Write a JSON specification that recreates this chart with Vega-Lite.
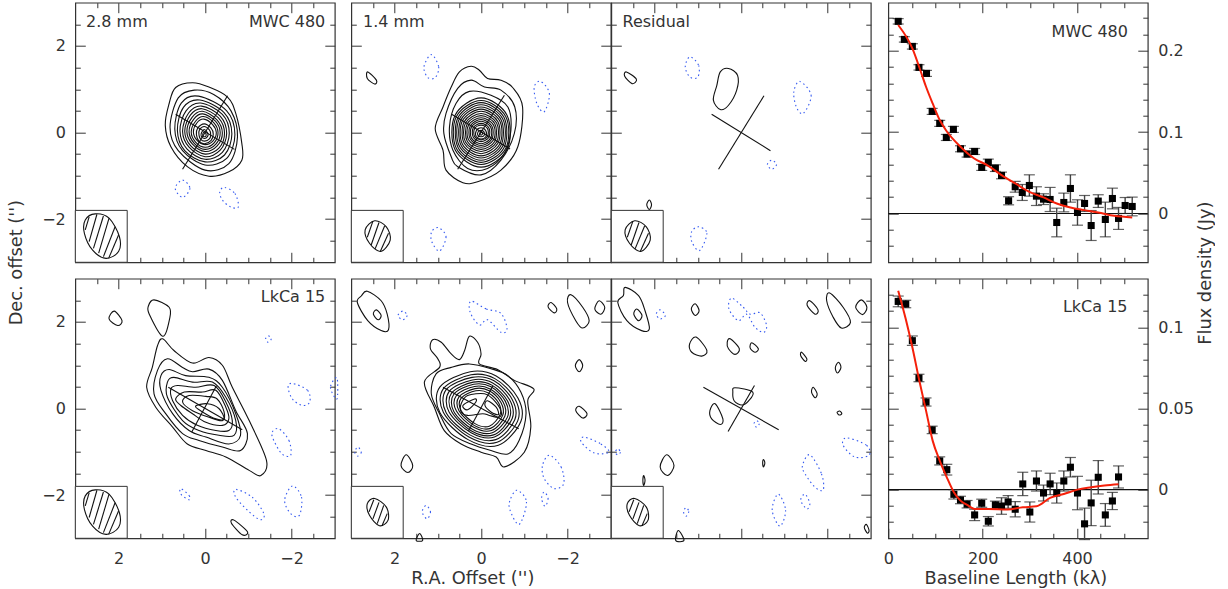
{"$schema":"https://vega.github.io/schema/vega-lite/v6.json","padding":{"left":6.3,"top":0.7,"right":0,"bottom":0},"columns":6,"spacing":{"row":16,"column":0},"bounds":"flush","background":"white",
"config":{"view":{"stroke":"#333","strokeWidth":1.2},"line":{"stroke":"#111","strokeWidth":1.1,"clip":true},"text":{"font":"DejaVu Sans","fontSize":16,"fill":"#333"},"axis":{"domain":false,"grid":false,"labelFont":"DejaVu Sans","labelFontSize":16,"labelColor":"#333","tickColor":"#333","tickWidth":1,"titleFont":"DejaVu Sans","titleFontSize":17.8,"titleFontWeight":"normal","titleColor":"#333","title":null,"labelOverlap":false,"labelFlush":false}},
"datasets":{
"box":[{"x":3,"x2":1.8,"y":-3,"y2":-1.8}],
"zero":[{"y":0}],
"beamA":[{"x":2.54,"y":-1.88},{"x":2.22,"y":-1.98},{"x":1.98,"y":-2.41},{"x":2,"y":-2.75},{"x":2.29,"y":-2.91},{"x":2.6,"y":-2.72},{"x":2.79,"y":-2.33},{"x":2.77,"y":-2.02}],
"hatchA":[{"c":1,"x":2.77,"y":-2.25},{"c":1,"x":2.68,"y":-1.95},{"c":2,"x":2.68,"y":-2.52},{"c":2,"x":2.5,"y":-1.89},{"c":3,"x":2.58,"y":-2.68},{"c":3,"x":2.35,"y":-1.93},{"c":4,"x":2.46,"y":-2.79},{"c":4,"x":2.22,"y":-1.98},{"c":5,"x":2.35,"y":-2.87},{"c":5,"x":2.08,"y":-2.18},{"c":6,"x":2.23,"y":-2.91},{"c":6,"x":2,"y":-2.37}],
"beamB":[{"x":2.46,"y":-2.04},{"x":2.19,"y":-2.18},{"x":2.1,"y":-2.49},{"x":2.32,"y":-2.75},{"x":2.58,"y":-2.56},{"x":2.68,"y":-2.25}],
"hatchB":[{"c":1,"x":2.63,"y":-2.42},{"c":1,"x":2.5,"y":-2.05},{"c":2,"x":2.54,"y":-2.6},{"c":2,"x":2.36,"y":-2.08},{"c":3,"x":2.45,"y":-2.69},{"c":3,"x":2.23,"y":-2.16},{"c":4,"x":2.33,"y":-2.75},{"c":4,"x":2.14,"y":-2.33}],
"beamC":[{"x":2.46,"y":-2.08},{"x":2.19,"y":-2.28},{"x":2.15,"y":-2.58},{"x":2.35,"y":-2.71},{"x":2.58,"y":-2.47},{"x":2.63,"y":-2.2}],
"hatchC":[{"c":1,"x":2.59,"y":-2.39},{"c":1,"x":2.48,"y":-2.11},{"c":2,"x":2.5,"y":-2.55},{"c":2,"x":2.36,"y":-2.17},{"c":3,"x":2.4,"y":-2.66},{"c":3,"x":2.25,"y":-2.24},{"c":4,"x":2.29,"y":-2.71},{"c":4,"x":2.17,"y":-2.43}],
"p1":[{"c":1,"x":0.29,"y":1.15},{"c":1,"x":0.68,"y":1.04},{"c":1,"x":0.83,"y":0.67},{"c":1,"x":0.92,"y":0.17},{"c":1,"x":0.79,"y":-0.33},{"c":1,"x":0.41,"y":-0.79},{"c":1,"x":-0.09,"y":-1.01},{"c":1,"x":-0.55,"y":-0.91},{"c":1,"x":-0.85,"y":-0.64},{"c":1,"x":-0.85,"y":-0.25},{"c":1,"x":-0.71,"y":0.44},{"c":1,"x":-0.52,"y":0.82},{"c":1,"x":-0.09,"y":1.05},
{"c":2,"x":0.25,"y":0.98},{"c":2,"x":0.62,"y":0.8},{"c":2,"x":0.81,"y":0.12},{"c":2,"x":0.62,"y":-0.42},{"c":2,"x":0,"y":-0.87},{"c":2,"x":-0.55,"y":-0.72},{"c":2,"x":-0.75,"y":-0.1},{"c":2,"x":-0.6,"y":0.5},{"c":2,"x":-0.2,"y":0.88},
{"c":3,"x":0.15,"y":0.84},{"c":3,"x":0.55,"y":0.68},{"c":3,"x":0.7,"y":0.08},{"c":3,"x":0.52,"y":-0.42},{"c":3,"x":0,"y":-0.75},{"c":3,"x":-0.5,"y":-0.6},{"c":3,"x":-0.69,"y":-0.05},{"c":3,"x":-0.5,"y":0.5},
{"c":4,"x":0.12,"y":0.75},{"c":4,"x":0.5,"y":0.58},{"c":4,"x":0.64,"y":0.05},{"c":4,"x":0.47,"y":-0.42},{"c":4,"x":0,"y":-0.68},{"c":4,"x":-0.45,"y":-0.52},{"c":4,"x":-0.62,"y":-0.03},{"c":4,"x":-0.44,"y":0.46},
{"c":5,"x":0.1,"y":0.68},{"c":5,"x":0.44,"y":0.5},{"c":5,"x":0.58,"y":0.04},{"c":5,"x":0.42,"y":-0.38},{"c":5,"x":0,"y":-0.62},{"c":5,"x":-0.4,"y":-0.46},{"c":5,"x":-0.56,"y":-0.02},{"c":5,"x":-0.4,"y":0.42},
{"c":6,"x":0.08,"y":0.61},{"c":6,"x":0.38,"y":0.45},{"c":6,"x":0.52,"y":0.03},{"c":6,"x":0.37,"y":-0.34},{"c":6,"x":0,"y":-0.56},{"c":6,"x":-0.35,"y":-0.41},{"c":6,"x":-0.5,"y":-0.02},{"c":6,"x":-0.35,"y":0.38},
{"c":7,"x":0.07,"y":0.55},{"c":7,"x":0.34,"y":0.4},{"c":7,"x":0.47,"y":0.03},{"c":7,"x":0.33,"y":-0.31},{"c":7,"x":0,"y":-0.5},{"c":7,"x":-0.32,"y":-0.36},{"c":7,"x":-0.45,"y":-0.01},{"c":7,"x":-0.31,"y":0.34},
{"c":8,"x":0.06,"y":0.49},{"c":8,"x":0.3,"y":0.35},{"c":8,"x":0.42,"y":0.02},{"c":8,"x":0.29,"y":-0.27},{"c":8,"x":0,"y":-0.44},{"c":8,"x":-0.28,"y":-0.31},{"c":8,"x":-0.4,"y":-0.01},{"c":8,"x":-0.27,"y":0.3},
{"c":9,"x":0.05,"y":0.43},{"c":9,"x":0.26,"y":0.31},{"c":9,"x":0.37,"y":0.02},{"c":9,"x":0.25,"y":-0.25},{"c":9,"x":0,"y":-0.39},{"c":9,"x":-0.25,"y":-0.27},{"c":9,"x":-0.35,"y":0},{"c":9,"x":-0.24,"y":0.26},
{"c":10,"x":0.04,"y":0.37},{"c":10,"x":0.22,"y":0.26},{"c":10,"x":0.32,"y":0.01},{"c":10,"x":0.22,"y":-0.22},{"c":10,"x":0,"y":-0.34},{"c":10,"x":-0.21,"y":-0.24},{"c":10,"x":-0.3,"y":0},{"c":10,"x":-0.2,"y":0.23},
{"c":11,"x":0.03,"y":0.31},{"c":11,"x":0.19,"y":0.22},{"c":11,"x":0.27,"y":0.01},{"c":11,"x":0.18,"y":-0.19},{"c":11,"x":0,"y":-0.28},{"c":11,"x":-0.18,"y":-0.2},{"c":11,"x":-0.26,"y":0},{"c":11,"x":-0.17,"y":0.19},
{"c":12,"x":0.02,"y":0.2},{"c":12,"x":0.17,"y":0.1},{"c":12,"x":0.2,"y":-0.05},{"c":12,"x":0.14,"y":-0.2},{"c":12,"x":0.01,"y":-0.26},{"c":12,"x":-0.14,"y":-0.18},{"c":12,"x":-0.19,"y":-0.04},{"c":12,"x":-0.14,"y":0.1},
{"c":13,"x":0.02,"y":0.14},{"c":13,"x":0.13,"y":0.06},{"c":13,"x":0.14,"y":-0.06},{"c":13,"x":0.1,"y":-0.16},{"c":13,"x":0.01,"y":-0.2},{"c":13,"x":-0.1,"y":-0.15},{"c":13,"x":-0.13,"y":-0.05},{"c":13,"x":-0.1,"y":0.06},
{"c":14,"x":0.02,"y":0.07},{"c":14,"x":0.08,"y":0},{"c":14,"x":0.09,"y":-0.08},{"c":14,"x":0.02,"y":-0.14},{"c":14,"x":-0.06,"y":-0.09},{"c":14,"x":-0.06,"y":-0.01},
{"c":15,"x":0.02,"y":0.01},{"c":15,"x":0.05,"y":-0.03},{"c":15,"x":0.05,"y":-0.08},{"c":15,"x":0.02,"y":-0.1},{"c":15,"x":-0.02,"y":-0.08},{"c":15,"x":-0.02,"y":-0.03}],
"n1":[{"c":1,"x":0.52,"y":-1.1},{"c":1,"x":0.35,"y":-1.29},{"c":1,"x":0.52,"y":-1.5},{"c":1,"x":0.69,"y":-1.29},{"c":2,"x":-0.45,"y":-1.27},{"c":2,"x":-0.69,"y":-1.41},{"c":2,"x":-0.77,"y":-1.72},{"c":2,"x":-0.59,"y":-1.72},{"c":2,"x":-0.4,"y":-1.56},{"c":2,"x":-0.34,"y":-1.37}],
"l1":[{"c":1,"x":-0.52,"y":0.85},{"c":1,"x":0.52,"y":-0.85},{"c":2,"x":0.68,"y":0.42},{"c":2,"x":-0.68,"y":-0.39}],
"p2":[{"c":1,"x":0.23,"y":1.53},{"c":1,"x":0.5,"y":1.4},{"c":1,"x":0.69,"y":1.05},{"c":1,"x":0.88,"y":0.59},{"c":1,"x":1.06,"y":0.09},{"c":1,"x":0.88,"y":-0.41},{"c":1,"x":0.81,"y":-0.87},{"c":1,"x":0.42,"y":-1.16},{"c":1,"x":0.08,"y":-1.14},{"c":1,"x":-0.46,"y":-0.87},{"c":1,"x":-0.85,"y":-0.33},{"c":1,"x":-0.96,"y":0.59},{"c":1,"x":-0.73,"y":1.04},{"c":1,"x":-0.46,"y":1.21},{"c":1,"x":-0.15,"y":1.25},{"c":1,"x":0.04,"y":1.44},
{"c":2,"x":0.23,"y":1.21},{"c":2,"x":0.54,"y":1.02},{"c":2,"x":0.81,"y":0.44},{"c":2,"x":0.86,"y":-0.02},{"c":2,"x":0.69,"y":-0.56},{"c":2,"x":0.54,"y":-0.79},{"c":2,"x":0,"y":-0.98},{"c":2,"x":-0.46,"y":-0.64},{"c":2,"x":-0.77,"y":-0.02},{"c":2,"x":-0.78,"y":0.59},{"c":2,"x":-0.46,"y":0.98},{"c":2,"x":-0.08,"y":1.05},
{"c":3,"x":0.27,"y":0.95},{"c":3,"x":0.58,"y":0.67},{"c":3,"x":0.73,"y":0.13},{"c":3,"x":0.65,"y":-0.41},{"c":3,"x":0.31,"y":-0.83},{"c":3,"x":-0.15,"y":-0.83},{"c":3,"x":-0.54,"y":-0.48},{"c":3,"x":-0.69,"y":0.05},{"c":3,"x":-0.62,"y":0.59},{"c":3,"x":-0.23,"y":0.86},
{"c":4,"x":0,"y":0.8},{"c":4,"x":0.6,"y":0.4},{"c":4,"x":0.6,"y":-0.4},{"c":4,"x":0,"y":-0.8},{"c":4,"x":-0.6,"y":-0.4},{"c":4,"x":-0.6,"y":0.4},
{"c":5,"x":0,"y":0.74},{"c":5,"x":0.57,"y":0.37},{"c":5,"x":0.57,"y":-0.37},{"c":5,"x":0,"y":-0.74},{"c":5,"x":-0.57,"y":-0.37},{"c":5,"x":-0.57,"y":0.37},
{"c":6,"x":0,"y":0.69},{"c":6,"x":0.53,"y":0.35},{"c":6,"x":0.53,"y":-0.35},{"c":6,"x":0,"y":-0.69},{"c":6,"x":-0.53,"y":-0.35},{"c":6,"x":-0.53,"y":0.35},
{"c":7,"x":0,"y":0.64},{"c":7,"x":0.5,"y":0.32},{"c":7,"x":0.5,"y":-0.32},{"c":7,"x":0,"y":-0.64},{"c":7,"x":-0.5,"y":-0.32},{"c":7,"x":-0.5,"y":0.32},
{"c":8,"x":0,"y":0.59},{"c":8,"x":0.46,"y":0.3},{"c":8,"x":0.46,"y":-0.3},{"c":8,"x":0,"y":-0.59},{"c":8,"x":-0.46,"y":-0.3},{"c":8,"x":-0.46,"y":0.3},
{"c":9,"x":0,"y":0.54},{"c":9,"x":0.43,"y":0.27},{"c":9,"x":0.43,"y":-0.27},{"c":9,"x":0,"y":-0.54},{"c":9,"x":-0.43,"y":-0.27},{"c":9,"x":-0.43,"y":0.27},
{"c":10,"x":0,"y":0.49},{"c":10,"x":0.39,"y":0.25},{"c":10,"x":0.39,"y":-0.25},{"c":10,"x":0,"y":-0.49},{"c":10,"x":-0.39,"y":-0.25},{"c":10,"x":-0.39,"y":0.25},
{"c":11,"x":0,"y":0.44},{"c":11,"x":0.36,"y":0.22},{"c":11,"x":0.36,"y":-0.22},{"c":11,"x":0,"y":-0.44},{"c":11,"x":-0.36,"y":-0.22},{"c":11,"x":-0.36,"y":0.22},
{"c":12,"x":0,"y":0.39},{"c":12,"x":0.32,"y":0.2},{"c":12,"x":0.32,"y":-0.2},{"c":12,"x":0,"y":-0.39},{"c":12,"x":-0.32,"y":-0.2},{"c":12,"x":-0.32,"y":0.2},
{"c":13,"x":0,"y":0.34},{"c":13,"x":0.29,"y":0.17},{"c":13,"x":0.29,"y":-0.17},{"c":13,"x":0,"y":-0.34},{"c":13,"x":-0.29,"y":-0.17},{"c":13,"x":-0.29,"y":0.17},
{"c":14,"x":0,"y":0.3},{"c":14,"x":0.25,"y":0.15},{"c":14,"x":0.25,"y":-0.15},{"c":14,"x":0,"y":-0.3},{"c":14,"x":-0.25,"y":-0.15},{"c":14,"x":-0.25,"y":0.15},
{"c":15,"x":0,"y":0.26},{"c":15,"x":0.22,"y":0.13},{"c":15,"x":0.22,"y":-0.13},{"c":15,"x":0,"y":-0.26},{"c":15,"x":-0.22,"y":-0.13},{"c":15,"x":-0.22,"y":0.13},
{"c":16,"x":0,"y":0.21},{"c":16,"x":0.18,"y":0.11},{"c":16,"x":0.18,"y":-0.11},{"c":16,"x":0,"y":-0.21},{"c":16,"x":-0.18,"y":-0.11},{"c":16,"x":-0.18,"y":0.11},
{"c":17,"x":0,"y":0.17},{"c":17,"x":0.15,"y":0.09},{"c":17,"x":0.15,"y":-0.09},{"c":17,"x":0,"y":-0.17},{"c":17,"x":-0.15,"y":-0.09},{"c":17,"x":-0.15,"y":0.09},
{"c":18,"x":0,"y":0.11},{"c":18,"x":0.11,"y":0.04},{"c":18,"x":0.11,"y":-0.1},{"c":18,"x":0,"y":-0.15},{"c":18,"x":-0.11,"y":-0.1},{"c":18,"x":-0.11,"y":0.04},
{"c":19,"x":0,"y":0.05},{"c":19,"x":0.07,"y":0.01},{"c":19,"x":0.07,"y":-0.07},{"c":19,"x":0,"y":-0.1},{"c":19,"x":-0.07,"y":-0.07},{"c":19,"x":-0.07,"y":0.01},
{"c":20,"x":0,"y":0.01},{"c":20,"x":0.03,"y":-0.01},{"c":20,"x":0.03,"y":-0.04},{"c":20,"x":0,"y":-0.06},{"c":20,"x":-0.03,"y":-0.04},{"c":20,"x":-0.03,"y":-0.01},
{"c":21,"x":2.62,"y":1.4},{"c":21,"x":2.42,"y":1.21},{"c":21,"x":2.46,"y":1.12},{"c":21,"x":2.63,"y":1.25}],
"n2":[{"c":1,"x":1.15,"y":1.8},{"c":1,"x":0.98,"y":1.52},{"c":1,"x":1.06,"y":1.27},{"c":1,"x":1.23,"y":1.27},{"c":1,"x":1.32,"y":1.52},{"c":2,"x":-1.38,"y":1.18},{"c":2,"x":-1.58,"y":0.9},{"c":2,"x":-1.46,"y":0.48},{"c":2,"x":-1.29,"y":0.67},{"c":2,"x":-1.23,"y":1.05},{"c":3,"x":0.98,"y":-2.2},{"c":3,"x":0.81,"y":-2.41},{"c":3,"x":0.96,"y":-2.74},{"c":3,"x":1.14,"y":-2.52},{"c":3,"x":1.14,"y":-2.29}],
"l2":[{"c":1,"x":-0.54,"y":0.86},{"c":1,"x":0.54,"y":-0.85},{"c":2,"x":0.68,"y":0.42},{"c":2,"x":-0.67,"y":-0.38}],
"p3":[{"c":1,"x":2.65,"y":1.4},{"c":1,"x":2.42,"y":1.23},{"c":1,"x":2.52,"y":1.13},{"c":1,"x":2.69,"y":1.3},{"c":2,"x":0.29,"y":1.48},{"c":2,"x":0.08,"y":1.32},{"c":2,"x":0.1,"y":0.98},{"c":2,"x":0.29,"y":0.63},{"c":2,"x":0.48,"y":0.53},{"c":2,"x":0.64,"y":0.75},{"c":2,"x":0.56,"y":1.09},{"c":2,"x":0.48,"y":1.4},{"c":3,"x":2.12,"y":-1.56},{"c":3,"x":2.07,"y":-1.67},{"c":3,"x":2.12,"y":-1.78},{"c":3,"x":2.18,"y":-1.67}],
"n3":[{"c":1,"x":1.18,"y":1.75},{"c":1,"x":0.98,"y":1.55},{"c":1,"x":1,"y":1.28},{"c":1,"x":1.18,"y":1.28},{"c":1,"x":1.29,"y":1.52},{"c":2,"x":-1.36,"y":1.18},{"c":2,"x":-1.62,"y":0.86},{"c":2,"x":-1.44,"y":0.44},{"c":2,"x":-1.28,"y":0.59},{"c":2,"x":-1.22,"y":0.94},{"c":3,"x":-0.71,"y":-0.64},{"c":3,"x":-0.82,"y":-0.74},{"c":3,"x":-0.71,"y":-0.85},{"c":3,"x":-0.61,"y":-0.74},{"c":4,"x":0.98,"y":-2.18},{"c":4,"x":0.79,"y":-2.33},{"c":4,"x":0.96,"y":-2.73},{"c":4,"x":1.14,"y":-2.52},{"c":4,"x":1.14,"y":-2.29}],
"l3":[{"c":1,"x":-0.53,"y":0.85},{"c":1,"x":0.52,"y":-0.85},{"c":2,"x":0.68,"y":0.42},{"c":2,"x":-0.68,"y":-0.42}],
"p4":[{"c":1,"x":2.1,"y":2.25},{"c":1,"x":1.92,"y":2.03},{"c":1,"x":2.02,"y":1.92},{"c":1,"x":2.22,"y":2.07},{"c":2,"x":1.18,"y":2.51},{"c":2,"x":0.83,"y":2.34},{"c":2,"x":0.82,"y":2.07},{"c":2,"x":0.98,"y":1.67},{"c":2,"x":1.29,"y":2.18},{"c":2,"x":1.31,"y":2.37},
{"c":3,"x":0.98,"y":1.61},{"c":3,"x":0.72,"y":1.34},{"c":3,"x":0.29,"y":1.05},{"c":3,"x":-0.09,"y":1.18},{"c":3,"x":-0.4,"y":1},{"c":3,"x":-0.63,"y":0.49},{"c":3,"x":-1.02,"y":-0.28},{"c":3,"x":-1.42,"y":-1.2},{"c":3,"x":-1.29,"y":-1.55},{"c":3,"x":-1.02,"y":-1.43},{"c":3,"x":-0.48,"y":-1.12},{"c":3,"x":-0.02,"y":-0.97},{"c":3,"x":0.41,"y":-0.82},{"c":3,"x":0.75,"y":-0.43},{"c":3,"x":1.14,"y":0.03},{"c":3,"x":1.35,"y":0.49},{"c":3,"x":1.22,"y":0.95},{"c":3,"x":1.1,"y":1.45},
{"c":4,"x":0.87,"y":1.15},{"c":4,"x":0.52,"y":0.95},{"c":4,"x":0.29,"y":0.85},{"c":4,"x":-0.09,"y":0.91},{"c":4,"x":-0.4,"y":0.65},{"c":4,"x":-0.71,"y":-0.05},{"c":4,"x":-0.98,"y":-0.58},{"c":4,"x":-0.82,"y":-0.97},{"c":4,"x":-0.4,"y":-0.89},{"c":4,"x":0.14,"y":-0.74},{"c":4,"x":0.52,"y":-0.58},{"c":4,"x":0.91,"y":-0.12},{"c":4,"x":1.18,"y":0.34},{"c":4,"x":1.1,"y":0.88},
{"c":5,"x":0.83,"y":0.9},{"c":5,"x":0.45,"y":0.76},{"c":5,"x":-0.09,"y":0.72},{"c":5,"x":-0.4,"y":0.49},{"c":5,"x":-0.71,"y":-0.12},{"c":5,"x":-0.82,"y":-0.62},{"c":5,"x":-0.55,"y":-0.82},{"c":5,"x":-0.02,"y":-0.66},{"c":5,"x":0.37,"y":-0.51},{"c":5,"x":0.75,"y":-0.12},{"c":5,"x":1.02,"y":0.42},{"c":5,"x":1.02,"y":0.76},
{"c":6,"x":0.72,"y":0.72},{"c":6,"x":0.29,"y":0.61},{"c":6,"x":-0.17,"y":0.61},{"c":6,"x":-0.48,"y":0.26},{"c":6,"x":-0.71,"y":-0.28},{"c":6,"x":-0.67,"y":-0.62},{"c":6,"x":-0.32,"y":-0.62},{"c":6,"x":0.14,"y":-0.51},{"c":6,"x":0.52,"y":-0.28},{"c":6,"x":0.87,"y":0.26},{"c":6,"x":0.87,"y":0.61},
{"c":7,"x":0.64,"y":0.53},{"c":7,"x":0.22,"y":0.49},{"c":7,"x":-0.21,"y":0.53},{"c":7,"x":-0.48,"y":0.15},{"c":7,"x":-0.63,"y":-0.28},{"c":7,"x":-0.55,"y":-0.51},{"c":7,"x":-0.25,"y":-0.51},{"c":7,"x":0.18,"y":-0.39},{"c":7,"x":0.52,"y":-0.16},{"c":7,"x":0.75,"y":0.18},{"c":7,"x":0.79,"y":0.45},
{"c":8,"x":0.48,"y":0.38},{"c":8,"x":0.06,"y":0.38},{"c":8,"x":-0.25,"y":0.42},{"c":8,"x":-0.48,"y":0.03},{"c":8,"x":-0.55,"y":-0.24},{"c":8,"x":-0.4,"y":-0.39},{"c":8,"x":-0.02,"y":-0.32},{"c":8,"x":0.29,"y":-0.12},{"c":8,"x":0.56,"y":0.07},{"c":8,"x":0.68,"y":0.22},
{"c":9,"x":0.37,"y":0.3},{"c":9,"x":-0.02,"y":0.28},{"c":9,"x":-0.28,"y":0.22},{"c":9,"x":-0.44,"y":-0.08},{"c":9,"x":-0.4,"y":-0.28},{"c":9,"x":-0.09,"y":-0.2},{"c":9,"x":0.29,"y":-0.05},{"c":9,"x":0.52,"y":0.15},
{"c":10,"x":0.22,"y":0.05},{"c":10,"x":-0.05,"y":0.11},{"c":10,"x":-0.32,"y":0},{"c":10,"x":-0.44,"y":-0.24},{"c":10,"x":-0.25,"y":-0.24},{"c":10,"x":0.06,"y":-0.08},
{"c":11,"x":-0.67,"y":-2.58},{"c":11,"x":-0.98,"y":-2.85},{"c":11,"x":-0.86,"y":-2.92},{"c":11,"x":-0.61,"y":-2.65}],
"n4":[{"c":1,"x":-1.46,"y":1.68},{"c":1,"x":-1.53,"y":1.61},{"c":1,"x":-1.46,"y":1.53},{"c":1,"x":-1.4,"y":1.61},{"c":2,"x":-2.02,"y":0.58},{"c":2,"x":-2.37,"y":0.42},{"c":2,"x":-2.42,"y":0.15},{"c":2,"x":-2.25,"y":0.07},{"c":2,"x":-2.02,"y":0.22},{"c":2,"x":-1.92,"y":0.49},{"c":3,"x":-1.71,"y":-0.47},{"c":3,"x":-1.94,"y":-0.74},{"c":3,"x":-1.98,"y":-1.08},{"c":3,"x":-1.78,"y":-1.05},{"c":3,"x":-1.59,"y":-0.74},{"c":3,"x":-1.55,"y":-0.55},{"c":4,"x":0.56,"y":-1.85},{"c":4,"x":0.37,"y":-2.01},{"c":4,"x":0.37,"y":-2.11},{"c":4,"x":0.56,"y":-1.98},{"c":5,"x":-0.71,"y":-1.87},{"c":5,"x":-1.09,"y":-2.05},{"c":5,"x":-1.36,"y":-2.43},{"c":5,"x":-1.28,"y":-2.57},{"c":5,"x":-1.02,"y":-2.39},{"c":5,"x":-0.71,"y":-2.05},{"c":6,"x":-2.02,"y":-1.79},{"c":6,"x":-2.23,"y":-2.05},{"c":6,"x":-2.18,"y":-2.47},{"c":6,"x":-1.98,"y":-2.43},{"c":6,"x":-1.84,"y":-2.12},{"c":7,"x":-3.05,"y":0.71},{"c":7,"x":-2.9,"y":0.49},{"c":7,"x":-3.05,"y":0.22}],
"l4":[{"c":1,"x":-0.26,"y":0.52},{"c":1,"x":0.31,"y":-0.55},{"c":2,"x":0.85,"y":0.49},{"c":2,"x":-0.86,"y":-0.49}],
"p5":[{"c":1,"x":2.63,"y":2.71},{"c":1,"x":2.31,"y":2.49},{"c":1,"x":2.17,"y":2.18},{"c":1,"x":2.14,"y":1.82},{"c":1,"x":2.31,"y":1.8},{"c":1,"x":2.62,"y":2.03},{"c":1,"x":2.86,"y":2.45},{"c":1,"x":2.77,"y":2.6},{"c":2,"x":2.42,"y":2.28},{"c":2,"x":2.31,"y":2.15},{"c":2,"x":2.38,"y":2.05},{"c":2,"x":2.49,"y":2.18},{"c":3,"x":-1.62,"y":2.45},{"c":3,"x":-1.75,"y":2.3},{"c":3,"x":-1.69,"y":2.21},{"c":3,"x":-1.55,"y":2.35},{"c":4,"x":-2.08,"y":2.63},{"c":4,"x":-2.35,"y":2.34},{"c":4,"x":-2.5,"y":2.03},{"c":4,"x":-2.35,"y":1.86},{"c":4,"x":-2.19,"y":2.03},{"c":4,"x":-2,"y":2.45},{"c":5,"x":-2.73,"y":2.49},{"c":5,"x":-2.86,"y":2.34},{"c":5,"x":-2.77,"y":2.18},{"c":5,"x":-2.63,"y":2.3},{"c":6,"x":-2.27,"y":1.13},{"c":6,"x":-2.35,"y":0.99},{"c":6,"x":-2.27,"y":0.85},{"c":6,"x":-2.18,"y":0.99},{"c":7,"x":-2.27,"y":0.05},{"c":7,"x":-2.45,"y":-0.12},{"c":7,"x":-2.35,"y":-0.22},{"c":7,"x":-2.19,"y":-0.05},{"c":8,"x":1.73,"y":-1.07},{"c":8,"x":1.58,"y":-1.32},{"c":8,"x":1.69,"y":-1.48},{"c":8,"x":1.85,"y":-1.32},{"c":9,"x":1.42,"y":-2.89},{"c":9,"x":1.35,"y":-3.05},{"c":9,"x":1.5,"y":-3.05},
{"c":10,"x":1.12,"y":1.59},{"c":10,"x":0.92,"y":1.53},{"c":10,"x":0.69,"y":1.26},{"c":10,"x":0.5,"y":1.13},{"c":10,"x":0.38,"y":1.34},{"c":10,"x":0.27,"y":1.67},{"c":10,"x":0.08,"y":1.53},{"c":10,"x":0,"y":1.26},{"c":10,"x":0.04,"y":1.03},{"c":10,"x":-0.38,"y":0.9},{"c":10,"x":-0.77,"y":0.65},{"c":10,"x":-1.22,"y":0.45},{"c":10,"x":-1.08,"y":0.18},{"c":10,"x":-1.15,"y":-0.43},{"c":10,"x":-1,"y":-1.01},{"c":10,"x":-0.54,"y":-1.35},{"c":10,"x":-0.35,"y":-1.12},{"c":10,"x":0,"y":-1.01},{"c":10,"x":0.46,"y":-0.82},{"c":10,"x":0.85,"y":-0.51},{"c":10,"x":1.08,"y":0.03},{"c":10,"x":1.31,"y":0.61},{"c":10,"x":0.96,"y":0.95},{"c":10,"x":1,"y":1.15},{"c":10,"x":1.17,"y":1.38},
{"c":11,"x":0.27,"y":1.03},{"c":11,"x":-0.23,"y":0.92},{"c":11,"x":-0.62,"y":0.76},{"c":11,"x":-0.92,"y":0.38},{"c":11,"x":-1.04,"y":-0.12},{"c":11,"x":-0.88,"y":-0.74},{"c":11,"x":-0.62,"y":-1.05},{"c":11,"x":-0.23,"y":-0.97},{"c":11,"x":0.23,"y":-0.82},{"c":11,"x":0.69,"y":-0.58},{"c":11,"x":0.96,"y":-0.12},{"c":11,"x":1.15,"y":0.34},{"c":11,"x":1.04,"y":0.8},{"c":11,"x":0.69,"y":0.95},
{"c":12,"x":0.25,"y":0.85},{"c":12,"x":-0.35,"y":0.75},{"c":12,"x":-0.85,"y":0.25},{"c":12,"x":-0.92,"y":-0.3},{"c":12,"x":-0.4,"y":-0.85},{"c":12,"x":0.3,"y":-0.72},{"c":12,"x":0.95,"y":-0.1},{"c":12,"x":0.95,"y":0.5},
{"c":13,"x":0.23,"y":0.78},{"c":13,"x":-0.32,"y":0.69},{"c":13,"x":-0.78,"y":0.23},{"c":13,"x":-0.85,"y":-0.28},{"c":13,"x":-0.37,"y":-0.78},{"c":13,"x":0.28,"y":-0.66},{"c":13,"x":0.87,"y":-0.09},{"c":13,"x":0.87,"y":0.46},
{"c":14,"x":0.21,"y":0.72},{"c":14,"x":-0.3,"y":0.64},{"c":14,"x":-0.72,"y":0.21},{"c":14,"x":-0.78,"y":-0.26},{"c":14,"x":-0.34,"y":-0.72},{"c":14,"x":0.26,"y":-0.61},{"c":14,"x":0.81,"y":-0.09},{"c":14,"x":0.81,"y":0.43},
{"c":15,"x":0.2,"y":0.66},{"c":15,"x":-0.27,"y":0.59},{"c":15,"x":-0.66,"y":0.2},{"c":15,"x":-0.72,"y":-0.23},{"c":15,"x":-0.31,"y":-0.66},{"c":15,"x":0.23,"y":-0.56},{"c":15,"x":0.74,"y":-0.08},{"c":15,"x":0.74,"y":0.39},
{"c":16,"x":0.18,"y":0.61},{"c":16,"x":-0.25,"y":0.54},{"c":16,"x":-0.61,"y":0.18},{"c":16,"x":-0.66,"y":-0.22},{"c":16,"x":-0.29,"y":-0.61},{"c":16,"x":0.22,"y":-0.52},{"c":16,"x":0.68,"y":-0.07},{"c":16,"x":0.68,"y":0.36},
{"c":17,"x":0.17,"y":0.56},{"c":17,"x":-0.23,"y":0.5},{"c":17,"x":-0.56,"y":0.17},{"c":17,"x":-0.61,"y":-0.2},{"c":17,"x":-0.26,"y":-0.56},{"c":17,"x":0.2,"y":-0.48},{"c":17,"x":0.63,"y":-0.07},{"c":17,"x":0.63,"y":0.33},
{"c":18,"x":0.15,"y":0.51},{"c":18,"x":-0.21,"y":0.45},{"c":18,"x":-0.51,"y":0.15},{"c":18,"x":-0.55,"y":-0.18},{"c":18,"x":-0.24,"y":-0.51},{"c":18,"x":0.18,"y":-0.43},{"c":18,"x":0.57,"y":-0.06},{"c":18,"x":0.57,"y":0.3},
{"c":19,"x":0.14,"y":0.46},{"c":19,"x":-0.19,"y":0.41},{"c":19,"x":-0.46,"y":0.14},{"c":19,"x":-0.5,"y":-0.16},{"c":19,"x":-0.22,"y":-0.46},{"c":19,"x":0.16,"y":-0.39},{"c":19,"x":0.51,"y":-0.05},{"c":19,"x":0.51,"y":0.27},
{"c":20,"x":0.12,"y":0.41},{"c":20,"x":-0.17,"y":0.36},{"c":20,"x":-0.41,"y":0.12},{"c":20,"x":-0.44,"y":-0.14},{"c":20,"x":-0.19,"y":-0.41},{"c":20,"x":0.14,"y":-0.35},{"c":20,"x":0.46,"y":-0.05},{"c":20,"x":0.46,"y":0.24},
{"c":21,"x":0.46,"y":0.11},{"c":21,"x":0.31,"y":0.3},{"c":21,"x":-0.08,"y":0.34},{"c":21,"x":-0.27,"y":0.22},{"c":21,"x":-0.46,"y":-0.05},{"c":21,"x":-0.42,"y":-0.2},{"c":21,"x":-0.19,"y":-0.16},{"c":21,"x":-0.04,"y":-0.12},{"c":21,"x":0.31,"y":-0.16},{"c":21,"x":0.46,"y":-0.08},
{"c":22,"x":0.42,"y":0.07},{"c":22,"x":0.15,"y":0.22},{"c":22,"x":0.12,"y":0.15},{"c":22,"x":0.31,"y":-0.03},
{"c":23,"x":-0.15,"y":0.18},{"c":23,"x":-0.35,"y":0.03},{"c":23,"x":-0.4,"y":-0.14},{"c":23,"x":-0.23,"y":-0.08},{"c":23,"x":-0.09,"y":0.07}],
"n5":[{"c":1,"x":0.23,"y":2.48},{"c":1,"x":-0.12,"y":2.3},{"c":1,"x":-0.46,"y":2.2},{"c":1,"x":-0.6,"y":1.84},{"c":1,"x":-0.46,"y":1.76},{"c":1,"x":-0.15,"y":2.05},{"c":1,"x":0.04,"y":1.93},{"c":1,"x":0.25,"y":2.22},{"c":2,"x":1.81,"y":2.25},{"c":2,"x":1.71,"y":2.15},{"c":2,"x":1.81,"y":2.05},{"c":2,"x":1.92,"y":2.15},{"c":3,"x":-2.38,"y":-0.66},{"c":3,"x":-2.77,"y":-0.82},{"c":3,"x":-2.96,"y":-1.01},{"c":3,"x":-2.62,"y":-1.03},{"c":3,"x":-2.32,"y":-0.78},{"c":4,"x":-1.58,"y":-1.08},{"c":4,"x":-1.85,"y":-1.35},{"c":4,"x":-1.91,"y":-1.74},{"c":4,"x":-1.69,"y":-1.85},{"c":4,"x":-1.46,"y":-1.62},{"c":4,"x":-1.42,"y":-1.32},{"c":5,"x":-1.46,"y":-1.93},{"c":5,"x":-1.55,"y":-2.08},{"c":5,"x":-1.48,"y":-2.26},{"c":5,"x":-1.4,"y":-2.08},{"c":6,"x":-0.83,"y":-1.89},{"c":6,"x":-1.05,"y":-2.16},{"c":6,"x":-0.88,"y":-2.68},{"c":6,"x":-0.67,"y":-2.35},{"c":6,"x":-0.67,"y":-2.12},{"c":7,"x":1.27,"y":-2.24},{"c":7,"x":1.17,"y":-2.39},{"c":7,"x":1.25,"y":-2.55},{"c":7,"x":1.36,"y":-2.39},{"c":8,"x":2.85,"y":-0.89},{"c":8,"x":2.77,"y":-1.01},{"c":8,"x":2.85,"y":-1.1},{"c":8,"x":2.92,"y":-1.01}],
"l5":[{"c":1,"x":-0.27,"y":0.52},{"c":1,"x":0.29,"y":-0.52},{"c":2,"x":0.88,"y":0.49},{"c":2,"x":-0.87,"y":-0.47}],
"p6":[{"c":1,"x":2.68,"y":2.8},{"c":1,"x":2.37,"y":2.61},{"c":1,"x":2.22,"y":2.26},{"c":1,"x":2.12,"y":1.84},{"c":1,"x":2.3,"y":1.8},{"c":1,"x":2.64,"y":2.03},{"c":1,"x":2.85,"y":2.45},{"c":1,"x":2.72,"y":2.61},{"c":2,"x":2.41,"y":2.3},{"c":2,"x":2.29,"y":2.15},{"c":2,"x":2.37,"y":2.03},{"c":2,"x":2.48,"y":2.18},{"c":3,"x":1.06,"y":2.42},{"c":3,"x":0.97,"y":2.26},{"c":3,"x":1.06,"y":2.15},{"c":3,"x":1.15,"y":2.3},{"c":4,"x":1.04,"y":1.65},{"c":4,"x":0.79,"y":1.34},{"c":4,"x":0.91,"y":1.21},{"c":4,"x":1.14,"y":1.3},{"c":4,"x":1.19,"y":1.49},{"c":5,"x":0.25,"y":1.61},{"c":5,"x":0.04,"y":1.38},{"c":5,"x":0.14,"y":1.25},{"c":5,"x":0.29,"y":1.38},{"c":5,"x":0.32,"y":1.53},{"c":6,"x":-0.25,"y":1.52},{"c":6,"x":-0.4,"y":1.38},{"c":6,"x":-0.32,"y":1.3},{"c":6,"x":-0.21,"y":1.4},{"c":7,"x":-1.59,"y":2.49},{"c":7,"x":-1.78,"y":2.28},{"c":7,"x":-1.71,"y":2.18},{"c":7,"x":-1.53,"y":2.38},{"c":8,"x":-2.05,"y":2.67},{"c":8,"x":-2.36,"y":2.34},{"c":8,"x":-2.53,"y":1.99},{"c":8,"x":-2.32,"y":1.86},{"c":8,"x":-2.13,"y":2.11},{"c":8,"x":-1.98,"y":2.49},{"c":9,"x":-2.78,"y":2.51},{"c":9,"x":-2.91,"y":2.34},{"c":9,"x":-2.81,"y":2.17},{"c":9,"x":-2.65,"y":2.34},{"c":10,"x":-1.4,"y":1.3},{"c":10,"x":-1.52,"y":1.15},{"c":10,"x":-1.48,"y":1.09},{"c":10,"x":-1.38,"y":1.22},{"c":11,"x":-2.25,"y":1.07},{"c":11,"x":-2.31,"y":0.95},{"c":11,"x":-2.23,"y":0.82},{"c":11,"x":-2.18,"y":0.94},{"c":12,"x":-1.67,"y":0.49},{"c":12,"x":-1.76,"y":0.34},{"c":12,"x":-1.71,"y":0.25},{"c":12,"x":-1.63,"y":0.38},{"c":13,"x":-2.28,"y":-0.06},{"c":13,"x":-2.33,"y":-0.12},{"c":13,"x":-2.27,"y":-0.15},{"c":13,"x":-2.22,"y":-0.09},{"c":14,"x":0.14,"y":0.48},{"c":14,"x":-0.27,"y":0.38},{"c":14,"x":-0.17,"y":0.17},{"c":14,"x":-0.02,"y":0.08},{"c":14,"x":0.16,"y":0.18},{"c":14,"x":0.19,"y":0.38},{"c":15,"x":0.6,"y":0.11},{"c":15,"x":0.42,"y":-0.24},{"c":15,"x":0.48,"y":-0.37},{"c":15,"x":0.68,"y":-0.24},{"c":15,"x":0.72,"y":-0.05},{"c":16,"x":1.72,"y":-1.07},{"c":16,"x":1.55,"y":-1.32},{"c":16,"x":1.7,"y":-1.55},{"c":16,"x":1.87,"y":-1.35},{"c":17,"x":-0.52,"y":-1.18},{"c":17,"x":-0.55,"y":-1.26},{"c":17,"x":-0.52,"y":-1.35},{"c":17,"x":-0.5,"y":-1.26},{"c":18,"x":2.25,"y":-1.55},{"c":18,"x":2.22,"y":-1.66},{"c":18,"x":2.25,"y":-1.78},{"c":18,"x":2.27,"y":-1.66},{"c":19,"x":1.45,"y":-2.82},{"c":19,"x":1.32,"y":-3.05},{"c":19,"x":1.51,"y":-3.05},{"c":20,"x":-2.9,"y":-2.68},{"c":20,"x":-2.96,"y":-2.82},{"c":20,"x":-2.92,"y":-2.88},{"c":20,"x":-2.85,"y":-2.75}],
"n6":[{"c":1,"x":0.22,"y":2.55},{"c":1,"x":-0.05,"y":2.34},{"c":1,"x":-0.21,"y":2.18},{"c":1,"x":-0.44,"y":2.21},{"c":1,"x":-0.59,"y":1.92},{"c":1,"x":-0.52,"y":1.76},{"c":1,"x":-0.32,"y":1.88},{"c":1,"x":-0.13,"y":2.18},{"c":1,"x":0.06,"y":2.03},{"c":1,"x":0.28,"y":2.3},{"c":2,"x":1.87,"y":2.28},{"c":2,"x":1.75,"y":2.15},{"c":2,"x":1.87,"y":2.07},{"c":2,"x":1.96,"y":2.18},{"c":3,"x":-0.36,"y":-0.28},{"c":3,"x":-0.42,"y":-0.35},{"c":3,"x":-0.36,"y":-0.43},{"c":3,"x":-0.3,"y":-0.35},{"c":4,"x":-2.44,"y":-0.68},{"c":4,"x":-2.9,"y":-0.85},{"c":4,"x":-2.96,"y":-1.08},{"c":4,"x":-2.63,"y":-1.12},{"c":4,"x":-2.36,"y":-0.85},{"c":5,"x":-1.59,"y":-1.07},{"c":5,"x":-1.86,"y":-1.51},{"c":5,"x":-1.9,"y":-1.88},{"c":5,"x":-1.71,"y":-1.82},{"c":5,"x":-1.48,"y":-1.51},{"c":5,"x":-1.42,"y":-1.32},{"c":6,"x":-1.48,"y":-1.98},{"c":6,"x":-1.59,"y":-2.2},{"c":6,"x":-1.52,"y":-2.32},{"c":6,"x":-1.38,"y":-2.12},{"c":7,"x":-0.86,"y":-1.98},{"c":7,"x":-1.03,"y":-2.35},{"c":7,"x":-0.9,"y":-2.72},{"c":7,"x":-0.72,"y":-2.35},{"c":8,"x":1.27,"y":-2.29},{"c":8,"x":1.21,"y":-2.38},{"c":8,"x":1.27,"y":-2.49},{"c":8,"x":1.33,"y":-2.39},{"c":9,"x":2.85,"y":-0.93},{"c":9,"x":2.79,"y":-1.01},{"c":9,"x":2.85,"y":-1.07},{"c":9,"x":2.91,"y":-1.01}],
"l6":[{"c":1,"x":-0.31,"y":0.53},{"c":1,"x":0.3,"y":-0.53},{"c":2,"x":0.87,"y":0.49},{"c":2,"x":-0.87,"y":-0.49}],
"uvA":[{"x":21,"y":0.2361,"lo":0.2328,"hi":0.2394},{"x":34,"y":0.2139,"lo":0.2106,"hi":0.2172},{"x":51,"y":0.2053,"lo":0.202,"hi":0.2086},{"x":65,"y":0.1795,"lo":0.1762,"hi":0.1828},{"x":81,"y":0.1721,"lo":0.1684,"hi":0.1758},{"x":93,"y":0.1254,"lo":0.1217,"hi":0.1291},{"x":109,"y":0.1107,"lo":0.107,"hi":0.1144},{"x":123,"y":0.0934,"lo":0.0897,"hi":0.0971},{"x":138,"y":0.1033,"lo":0.0996,"hi":0.107},{"x":153,"y":0.0795,"lo":0.0758,"hi":0.0832},{"x":167,"y":0.073,"lo":0.0693,"hi":0.0767},{"x":183,"y":0.0762,"lo":0.0725,"hi":0.0799},{"x":198,"y":0.0566,"lo":0.0529,"hi":0.0603},{"x":212,"y":0.0627,"lo":0.0586,"hi":0.0668},{"x":227,"y":0.0557,"lo":0.0516,"hi":0.0598},{"x":240,"y":0.0467,"lo":0.0426,"hi":0.0508},{"x":255,"y":0.0156,"lo":0.0106,"hi":0.0206},{"x":269,"y":0.0328,"lo":0.0262,"hi":0.0394},{"x":284,"y":0.0258,"lo":0.016,"hi":0.0356},{"x":299,"y":0.0344,"lo":0.0213,"hi":0.0475},{"x":314,"y":0.0213,"lo":0.0098,"hi":0.0328},{"x":329,"y":0.0176,"lo":0.011,"hi":0.0242},{"x":343,"y":0.0172,"lo":0.0024,"hi":0.032},{"x":357,"y":-0.0111,"lo":-0.0287,"hi":0.0065},{"x":372,"y":0.0135,"lo":0.002,"hi":0.025},{"x":386,"y":0.0307,"lo":0.0139,"hi":0.0475},{"x":401,"y":0.0012,"lo":-0.0144,"hi":0.0168},{"x":416,"y":0.0123,"lo":0.0025,"hi":0.0221},{"x":430,"y":-0.0148,"lo":-0.0332,"hi":0.0036},{"x":445,"y":0.0152,"lo":0.0074,"hi":0.023},{"x":460,"y":-0.0074,"lo":-0.0287,"hi":0.0139},{"x":475,"y":0.0184,"lo":0.0057,"hi":0.0311},{"x":488,"y":-0.0061,"lo":-0.0196,"hi":0.0074},{"x":502,"y":0.0098,"lo":0,"hi":0.0196},{"x":517,"y":0.0086,"lo":-0.0029,"hi":0.0201}],
"redA":[{"x":21,"y":0.2316},{"x":51,"y":0.2029},{"x":69,"y":0.1742},{"x":80,"y":0.1557},{"x":94,"y":0.1352},{"x":109,"y":0.1148},{"x":123,"y":0.1016},{"x":153,"y":0.082},{"x":182,"y":0.0676},{"x":212,"y":0.0586},{"x":240,"y":0.0471},{"x":269,"y":0.0369},{"x":299,"y":0.0266},{"x":329,"y":0.0197},{"x":357,"y":0.0123},{"x":386,"y":0.0074},{"x":416,"y":0.0041},{"x":445,"y":0.0012},{"x":479,"y":-0.0029},{"x":517,"y":-0.0049}],
"uvB":[{"x":21,"y":0.116,"lo":0.1127,"hi":0.1193},{"x":37,"y":0.1144,"lo":0.1121,"hi":0.1167},{"x":51,"y":0.0918,"lo":0.0889,"hi":0.0947},{"x":65,"y":0.0688,"lo":0.0665,"hi":0.0711},{"x":80,"y":0.054,"lo":0.0515,"hi":0.0565},{"x":93,"y":0.0368,"lo":0.0345,"hi":0.0391},{"x":109,"y":0.0177,"lo":0.0152,"hi":0.0202},{"x":124,"y":0.0123,"lo":0.009,"hi":0.0156},{"x":139,"y":-0.0029,"lo":-0.0058,"hi":0},{"x":153,"y":-0.0064,"lo":-0.0087,"hi":-0.0041},{"x":167,"y":-0.009,"lo":-0.0113,"hi":-0.0067},{"x":183,"y":-0.0156,"lo":-0.0191,"hi":-0.0121},{"x":198,"y":-0.0084,"lo":-0.0109,"hi":-0.0059},{"x":212,"y":-0.0195,"lo":-0.0224,"hi":-0.0166},{"x":227,"y":-0.0094,"lo":-0.0117,"hi":-0.0071},{"x":240,"y":-0.0101,"lo":-0.0152,"hi":-0.005},{"x":254,"y":-0.0076,"lo":-0.0115,"hi":-0.0037},{"x":269,"y":-0.0121,"lo":-0.0168,"hi":-0.0074},{"x":285,"y":0.0035,"lo":-0.0037,"hi":0.0107},{"x":300,"y":-0.0138,"lo":-0.02,"hi":-0.0076},{"x":314,"y":0.0053,"lo":-0.0009,"hi":0.0115},{"x":329,"y":-0.0021,"lo":-0.007,"hi":0.0028},{"x":343,"y":0.0035,"lo":-0.0031,"hi":0.0101},{"x":357,"y":-0.0021,"lo":-0.0083,"hi":0.0041},{"x":372,"y":0.0053,"lo":-0.0009,"hi":0.0115},{"x":386,"y":0.0138,"lo":0.0078,"hi":0.0198},{"x":401,"y":-0.0021,"lo":-0.0124,"hi":0.0082},{"x":416,"y":-0.0211,"lo":-0.0308,"hi":-0.0114},{"x":430,"y":-0.0082,"lo":-0.0222,"hi":0.0058},{"x":445,"y":0.0076,"lo":-0.0027,"hi":0.0179},{"x":460,"y":-0.0156,"lo":-0.0226,"hi":-0.0086},{"x":475,"y":-0.007,"lo":-0.0123,"hi":-0.0017},{"x":488,"y":0.0078,"lo":0.001,"hi":0.0146}],
"redB":[{"x":21,"y":0.1226},{"x":37,"y":0.1051},{"x":51,"y":0.0877},{"x":65,"y":0.0682},{"x":80,"y":0.0487},{"x":94,"y":0.0302},{"x":109,"y":0.0179},{"x":124,"y":0.0076},{"x":139,"y":-0.0016},{"x":153,"y":-0.0068},{"x":167,"y":-0.0094},{"x":183,"y":-0.0119},{"x":212,"y":-0.0119},{"x":253,"y":-0.0123},{"x":285,"y":-0.0109},{"x":314,"y":-0.0103},{"x":343,"y":-0.0051},{"x":372,"y":-0.0027},{"x":401,"y":0},{"x":430,"y":0.0014},{"x":458,"y":0.0025},{"x":488,"y":0.0033}]
},
"concat":[
{"width":259.5,"height":259.6,"encoding":{"x":{"field":"x","type":"quantitative","scale":{"domain":[3,-3]},"axis":null},"y":{"field":"y","type":"quantitative","scale":{"domain":[-3,3]},"axis":null},"detail":{"field":"c"},"order":{"value":null}},"layer":[
{"data":{"name":"box"},"mark":{"type":"rect","fill":"white","stroke":"#333","strokeWidth":1},"encoding":{"detail":null,"order":null,"x":{"field":"x","type":"quantitative","axis":{"orient":"bottom","values":[-2.5,-2,-1.5,-1,-0.5,0,0.5,1,1.5,2,2.5],"labels":false,"tickSize":{"condition":{"test":"datum.value%2==0","value":-10},"value":-5}}},"x2":{"field":"x2"},"y":{"field":"y","type":"quantitative","axis":{"orient":"left","values":[-2.5,-2,-1.5,-1,-0.5,0,0.5,1,1.5,2,2.5],"labelPadding":20,"labelExpr":"datum.value%2==0?(datum.value<0?'−':'')+abs(datum.value):''","tickSize":{"condition":{"test":"datum.value%2==0","value":-10},"value":-5}}},"y2":{"field":"y2"}}},
{"data":{"name":"p1"},"mark":{"type":"line","interpolate":"cardinal-closed"},"encoding":{"x":{"field":"x","type":"quantitative","axis":{"orient":"top","labels":false,"values":[-2.5,-2,-1.5,-1,-0.5,0,0.5,1,1.5,2,2.5],"tickSize":{"condition":{"test":"datum.value%2==0","value":-10},"value":-5}}},"y":{"field":"y","type":"quantitative","axis":{"orient":"right","labels":false,"values":[-2.5,-2,-1.5,-1,-0.5,0,0.5,1,1.5,2,2.5],"tickSize":{"condition":{"test":"datum.value%2==0","value":-10},"value":-5}}}}},
{"data":{"name":"n1"},"mark":{"type":"line","interpolate":"cardinal-closed","stroke":"#3358f0","strokeDash":[1.5,3]}},
{"data":{"name":"l1"},"mark":{"type":"line"}},
{"data":{"name":"beamA"},"mark":{"type":"line","interpolate":"cardinal-closed"},"encoding":{"detail":null}},
{"data":{"name":"hatchA"},"mark":{"type":"line"}},
{"data":{"values":[{"x":2.75,"y":2.56,"t":"2.8 mm"}]},"mark":{"type":"text","align":"left"},"encoding":{"detail":null,"order":null,"text":{"field":"t"}}},
{"data":{"values":[{"x":-2.78,"y":2.56,"t":"MWC 480"}]},"mark":{"type":"text","align":"right"},"encoding":{"detail":null,"order":null,"text":{"field":"t"}}}
],"resolve":{"axis":{"x":"independent","y":"independent"}}},
{"width":15.7,"height":259.6,"view":{"stroke":null},"data":{"values":[]},"mark":"text","encoding":{}},
{"width":259.5,"height":259.6,"encoding":{"x":{"field":"x","type":"quantitative","scale":{"domain":[3,-3]},"axis":null},"y":{"field":"y","type":"quantitative","scale":{"domain":[-3,3]},"axis":null},"detail":{"field":"c"},"order":{"value":null}},"layer":[
{"data":{"name":"box"},"mark":{"type":"rect","fill":"white","stroke":"#333","strokeWidth":1},"encoding":{"detail":null,"order":null,"x":{"field":"x","type":"quantitative","axis":{"orient":"bottom","values":[-2.5,-2,-1.5,-1,-0.5,0,0.5,1,1.5,2,2.5],"labels":false,"tickSize":{"condition":{"test":"datum.value%2==0","value":-10},"value":-5}}},"x2":{"field":"x2"},"y":{"field":"y","type":"quantitative","axis":{"orient":"left","values":[-2.5,-2,-1.5,-1,-0.5,0,0.5,1,1.5,2,2.5],"labels":false,"tickSize":{"condition":{"test":"datum.value%2==0","value":-10},"value":-5}}},"y2":{"field":"y2"}}},
{"data":{"name":"p2"},"mark":{"type":"line","interpolate":"cardinal-closed"},"encoding":{"x":{"field":"x","type":"quantitative","axis":{"orient":"top","labels":false,"values":[-2.5,-2,-1.5,-1,-0.5,0,0.5,1,1.5,2,2.5],"tickSize":{"condition":{"test":"datum.value%2==0","value":-10},"value":-5}}},"y":{"field":"y","type":"quantitative","axis":{"orient":"right","labels":false,"values":[-2.5,-2,-1.5,-1,-0.5,0,0.5,1,1.5,2,2.5],"tickSize":{"condition":{"test":"datum.value%2==0","value":-10},"value":-5}}}}},
{"data":{"name":"n2"},"mark":{"type":"line","interpolate":"cardinal-closed","stroke":"#3358f0","strokeDash":[1.5,3]}},
{"data":{"name":"l2"},"mark":{"type":"line"}},
{"data":{"name":"beamB"},"mark":{"type":"line","interpolate":"cardinal-closed"},"encoding":{"detail":null}},
{"data":{"name":"hatchB"},"mark":{"type":"line"}},
{"data":{"values":[{"x":2.73,"y":2.56,"t":"1.4 mm"}]},"mark":{"type":"text","align":"left"},"encoding":{"detail":null,"order":null,"text":{"field":"t"}}}
],"resolve":{"axis":{"x":"independent","y":"independent"}}},
{"width":259.5,"height":259.6,"encoding":{"x":{"field":"x","type":"quantitative","scale":{"domain":[3,-3]},"axis":null},"y":{"field":"y","type":"quantitative","scale":{"domain":[-3,3]},"axis":null},"detail":{"field":"c"},"order":{"value":null}},"layer":[
{"data":{"name":"box"},"mark":{"type":"rect","fill":"white","stroke":"#333","strokeWidth":1},"encoding":{"detail":null,"order":null,"x":{"field":"x","type":"quantitative","axis":{"orient":"bottom","values":[-2.5,-2,-1.5,-1,-0.5,0,0.5,1,1.5,2,2.5],"labels":false,"tickSize":{"condition":{"test":"datum.value%2==0","value":-10},"value":-5}}},"x2":{"field":"x2"},"y":{"field":"y","type":"quantitative","axis":{"orient":"left","values":[-2.5,-2,-1.5,-1,-0.5,0,0.5,1,1.5,2,2.5],"labels":false,"tickSize":{"condition":{"test":"datum.value%2==0","value":-10},"value":-5}}},"y2":{"field":"y2"}}},
{"data":{"name":"p3"},"mark":{"type":"line","interpolate":"cardinal-closed"},"encoding":{"x":{"field":"x","type":"quantitative","axis":{"orient":"top","labels":false,"values":[-2.5,-2,-1.5,-1,-0.5,0,0.5,1,1.5,2,2.5],"tickSize":{"condition":{"test":"datum.value%2==0","value":-10},"value":-5}}},"y":{"field":"y","type":"quantitative","axis":{"orient":"right","labels":false,"values":[-2.5,-2,-1.5,-1,-0.5,0,0.5,1,1.5,2,2.5],"tickSize":{"condition":{"test":"datum.value%2==0","value":-10},"value":-5}}}}},
{"data":{"name":"n3"},"mark":{"type":"line","interpolate":"cardinal-closed","stroke":"#3358f0","strokeDash":[1.5,3]}},
{"data":{"name":"l3"},"mark":{"type":"line"}},
{"data":{"name":"beamB"},"mark":{"type":"line","interpolate":"cardinal-closed"},"encoding":{"detail":null}},
{"data":{"name":"hatchB"},"mark":{"type":"line"}},
{"data":{"values":[{"x":2.74,"y":2.56,"t":"Residual"}]},"mark":{"type":"text","align":"left"},"encoding":{"detail":null,"order":null,"text":{"field":"t"}}}
],"resolve":{"axis":{"x":"independent","y":"independent"}}},
{"width":16.6,"height":259.6,"view":{"stroke":null},"data":{"values":[]},"mark":"text","encoding":{}},
{"width":259.5,"height":259.6,"encoding":{"x":{"field":"x","type":"quantitative","scale":{"domain":[0,550]},"axis":null},"y":{"field":"y","type":"quantitative","scale":{"domain":[-0.06,0.259]},"axis":null}},"layer":[
{"data":{"name":"zero"},"mark":{"type":"rule","stroke":"#111","strokeWidth":1.1},"encoding":{"x":null}},
{"data":{"name":"uvA"},"mark":{"type":"rule","stroke":"#444","strokeWidth":1.4},"encoding":{"x":{"field":"x","type":"quantitative","axis":{"orient":"bottom","labels":false,"values":[50,100,150,200,250,300,350,400,450,500],"tickSize":{"condition":{"test":"datum.value%200==0","value":-10},"value":-5}}},"y":{"field":"lo","type":"quantitative","axis":{"orient":"left","labels":false,"values":[-0.04,-0.02,0,0.02,0.04,0.06,0.08,0.1,0.12,0.14,0.16,0.18,0.2,0.22,0.24],"tickSize":{"condition":{"test":"abs(datum.value*10-round(datum.value*10))<0.000001","value":-10},"value":-5}}},"y2":{"field":"hi"}}},
{"data":{"name":"uvA"},"mark":{"type":"tick","orient":"horizontal","size":11,"thickness":1.2,"color":"#222"},"encoding":{"y":{"field":"lo","type":"quantitative","axis":null}}},
{"data":{"name":"uvA"},"mark":{"type":"tick","orient":"horizontal","size":11,"thickness":1.2,"color":"#222"},"encoding":{"y":{"field":"hi","type":"quantitative","axis":null}}},
{"data":{"name":"uvA"},"mark":{"type":"square","size":50,"color":"#000","opacity":1},"encoding":{"x":{"field":"x","type":"quantitative","axis":{"orient":"top","labels":false,"values":[50,100,150,200,250,300,350,400,450,500],"tickSize":{"condition":{"test":"datum.value%200==0","value":-10},"value":-5}}},"y":{"field":"y","type":"quantitative","axis":{"orient":"right","values":[-0.04,-0.02,0,0.02,0.04,0.06,0.08,0.1,0.12,0.14,0.16,0.18,0.2,0.22,0.24],"labelPadding":20,"labelExpr":"abs(datum.value*10-round(datum.value*10))<0.000001?''+datum.value:''","tickSize":{"condition":{"test":"abs(datum.value*10-round(datum.value*10))<0.000001","value":-10},"value":-5}}}}},
{"data":{"name":"redA"},"mark":{"type":"line","stroke":"#f5200a","strokeWidth":2,"interpolate":"monotone"},"encoding":{"order":{"value":null}}},
{"data":{"values":[{"x":508,"y":0.2234,"t":"MWC 480"}]},"mark":{"type":"text","align":"right"},"encoding":{"text":{"field":"t"}}}
],"resolve":{"axis":{"x":"independent","y":"independent"}}},
{"width":259.5,"height":259.6,"encoding":{"x":{"field":"x","type":"quantitative","scale":{"domain":[3,-3]},"axis":null},"y":{"field":"y","type":"quantitative","scale":{"domain":[-3,3]},"axis":null},"detail":{"field":"c"},"order":{"value":null}},"layer":[
{"data":{"name":"box"},"mark":{"type":"rect","fill":"white","stroke":"#333","strokeWidth":1},"encoding":{"detail":null,"order":null,"x":{"field":"x","type":"quantitative","axis":{"orient":"bottom","values":[-2.5,-2,-1.5,-1,-0.5,0,0.5,1,1.5,2,2.5],"labelPadding":22,"labelExpr":"datum.value%2==0?(datum.value<0?'−':'')+abs(datum.value):''","tickSize":{"condition":{"test":"datum.value%2==0","value":-10},"value":-5}}},"x2":{"field":"x2"},"y":{"field":"y","type":"quantitative","axis":{"orient":"left","values":[-2.5,-2,-1.5,-1,-0.5,0,0.5,1,1.5,2,2.5],"labelPadding":20,"labelExpr":"datum.value%2==0?(datum.value<0?'−':'')+abs(datum.value):''","tickSize":{"condition":{"test":"datum.value%2==0","value":-10},"value":-5},"title":"Dec. offset ('')","titleX":-50,"titleY":-16.5}},"y2":{"field":"y2"}}},
{"data":{"name":"p4"},"mark":{"type":"line","interpolate":"cardinal-closed"},"encoding":{"x":{"field":"x","type":"quantitative","axis":{"orient":"top","labels":false,"values":[-2.5,-2,-1.5,-1,-0.5,0,0.5,1,1.5,2,2.5],"tickSize":{"condition":{"test":"datum.value%2==0","value":-10},"value":-5}}},"y":{"field":"y","type":"quantitative","axis":{"orient":"right","labels":false,"values":[-2.5,-2,-1.5,-1,-0.5,0,0.5,1,1.5,2,2.5],"tickSize":{"condition":{"test":"datum.value%2==0","value":-10},"value":-5}}}}},
{"data":{"name":"n4"},"mark":{"type":"line","interpolate":"cardinal-closed","stroke":"#3358f0","strokeDash":[1.5,3]}},
{"data":{"name":"l4"},"mark":{"type":"line"}},
{"data":{"name":"beamA"},"mark":{"type":"line","interpolate":"cardinal-closed"},"encoding":{"detail":null}},
{"data":{"name":"hatchA"},"mark":{"type":"line"}},
{"data":{"values":[{"x":-2.78,"y":2.57,"t":"LkCa 15"}]},"mark":{"type":"text","align":"right"},"encoding":{"detail":null,"order":null,"text":{"field":"t"}}}
],"resolve":{"axis":{"x":"independent","y":"independent"}}},
{"width":15.7,"height":259.6,"view":{"stroke":null},"data":{"values":[]},"mark":"text","encoding":{}},
{"width":259.5,"height":259.6,"encoding":{"x":{"field":"x","type":"quantitative","scale":{"domain":[3,-3]},"axis":null},"y":{"field":"y","type":"quantitative","scale":{"domain":[-3,3]},"axis":null},"detail":{"field":"c"},"order":{"value":null}},"layer":[
{"data":{"name":"box"},"mark":{"type":"rect","fill":"white","stroke":"#333","strokeWidth":1},"encoding":{"detail":null,"order":null,"x":{"field":"x","type":"quantitative","axis":{"orient":"bottom","values":[-2.5,-2,-1.5,-1,-0.5,0,0.5,1,1.5,2,2.5],"labelPadding":22,"labelExpr":"datum.value%2==0?(datum.value<0?'−':'')+abs(datum.value):''","tickSize":{"condition":{"test":"datum.value%2==0","value":-10},"value":-5},"title":"R.A. Offset ('')","titleX":121,"titleY":31}},"x2":{"field":"x2"},"y":{"field":"y","type":"quantitative","axis":{"orient":"left","values":[-2.5,-2,-1.5,-1,-0.5,0,0.5,1,1.5,2,2.5],"labels":false,"tickSize":{"condition":{"test":"datum.value%2==0","value":-10},"value":-5}}},"y2":{"field":"y2"}}},
{"data":{"name":"p5"},"mark":{"type":"line","interpolate":"cardinal-closed"},"encoding":{"x":{"field":"x","type":"quantitative","axis":{"orient":"top","labels":false,"values":[-2.5,-2,-1.5,-1,-0.5,0,0.5,1,1.5,2,2.5],"tickSize":{"condition":{"test":"datum.value%2==0","value":-10},"value":-5}}},"y":{"field":"y","type":"quantitative","axis":{"orient":"right","labels":false,"values":[-2.5,-2,-1.5,-1,-0.5,0,0.5,1,1.5,2,2.5],"tickSize":{"condition":{"test":"datum.value%2==0","value":-10},"value":-5}}}}},
{"data":{"name":"n5"},"mark":{"type":"line","interpolate":"cardinal-closed","stroke":"#3358f0","strokeDash":[1.5,3]}},
{"data":{"name":"l5"},"mark":{"type":"line"}},
{"data":{"name":"beamC"},"mark":{"type":"line","interpolate":"cardinal-closed"},"encoding":{"detail":null}},
{"data":{"name":"hatchC"},"mark":{"type":"line"}}
],"resolve":{"axis":{"x":"independent","y":"independent"}}},
{"width":259.5,"height":259.6,"encoding":{"x":{"field":"x","type":"quantitative","scale":{"domain":[3,-3]},"axis":null},"y":{"field":"y","type":"quantitative","scale":{"domain":[-3,3]},"axis":null},"detail":{"field":"c"},"order":{"value":null}},"layer":[
{"data":{"name":"box"},"mark":{"type":"rect","fill":"white","stroke":"#333","strokeWidth":1},"encoding":{"detail":null,"order":null,"x":{"field":"x","type":"quantitative","axis":{"orient":"bottom","values":[-2.5,-2,-1.5,-1,-0.5,0,0.5,1,1.5,2,2.5],"labels":false,"tickSize":{"condition":{"test":"datum.value%2==0","value":-10},"value":-5}}},"x2":{"field":"x2"},"y":{"field":"y","type":"quantitative","axis":{"orient":"left","values":[-2.5,-2,-1.5,-1,-0.5,0,0.5,1,1.5,2,2.5],"labels":false,"tickSize":{"condition":{"test":"datum.value%2==0","value":-10},"value":-5}}},"y2":{"field":"y2"}}},
{"data":{"name":"p6"},"mark":{"type":"line","interpolate":"cardinal-closed"},"encoding":{"x":{"field":"x","type":"quantitative","axis":{"orient":"top","labels":false,"values":[-2.5,-2,-1.5,-1,-0.5,0,0.5,1,1.5,2,2.5],"tickSize":{"condition":{"test":"datum.value%2==0","value":-10},"value":-5}}},"y":{"field":"y","type":"quantitative","axis":{"orient":"right","labels":false,"values":[-2.5,-2,-1.5,-1,-0.5,0,0.5,1,1.5,2,2.5],"tickSize":{"condition":{"test":"datum.value%2==0","value":-10},"value":-5}}}}},
{"data":{"name":"n6"},"mark":{"type":"line","interpolate":"cardinal-closed","stroke":"#3358f0","strokeDash":[1.5,3]}},
{"data":{"name":"l6"},"mark":{"type":"line"}},
{"data":{"name":"beamC"},"mark":{"type":"line","interpolate":"cardinal-closed"},"encoding":{"detail":null}},
{"data":{"name":"hatchC"},"mark":{"type":"line"}}
],"resolve":{"axis":{"x":"independent","y":"independent"}}},
{"width":16.6,"height":259.6,"view":{"stroke":null},"data":{"values":[]},"mark":"text","encoding":{}},
{"width":259.5,"height":259.6,"encoding":{"x":{"field":"x","type":"quantitative","scale":{"domain":[0,550]},"axis":null},"y":{"field":"y","type":"quantitative","scale":{"domain":[-0.03,0.13]},"axis":null}},"layer":[
{"data":{"name":"zero"},"mark":{"type":"rule","stroke":"#111","strokeWidth":1.1},"encoding":{"x":null}},
{"data":{"name":"uvB"},"mark":{"type":"rule","stroke":"#444","strokeWidth":1.4},"encoding":{"x":{"field":"x","type":"quantitative","axis":{"orient":"bottom","values":[0,50,100,150,200,250,300,350,400,450,500],"labelPadding":22,"labelExpr":"datum.value%200==0?''+datum.value:''","tickSize":{"condition":{"test":"datum.value%200==0","value":-10},"value":-5},"title":"Baseline Length (kλ)","titleX":127,"titleY":31}},"y":{"field":"lo","type":"quantitative","axis":{"orient":"left","labels":false,"values":[-0.02,-0.01,0,0.01,0.02,0.03,0.04,0.05,0.06,0.07,0.08,0.09,0.1,0.11,0.12],"tickSize":{"condition":{"test":"abs(datum.value*20-round(datum.value*20))<0.000001","value":-10},"value":-5}}},"y2":{"field":"hi"}}},
{"data":{"name":"uvB"},"mark":{"type":"tick","orient":"horizontal","size":11,"thickness":1.2,"color":"#222"},"encoding":{"y":{"field":"lo","type":"quantitative","axis":null}}},
{"data":{"name":"uvB"},"mark":{"type":"tick","orient":"horizontal","size":11,"thickness":1.2,"color":"#222"},"encoding":{"y":{"field":"hi","type":"quantitative","axis":null}}},
{"data":{"name":"uvB"},"mark":{"type":"square","size":50,"color":"#000","opacity":1},"encoding":{"x":{"field":"x","type":"quantitative","axis":{"orient":"top","labels":false,"values":[50,100,150,200,250,300,350,400,450,500],"tickSize":{"condition":{"test":"datum.value%200==0","value":-10},"value":-5}}},"y":{"field":"y","type":"quantitative","axis":{"orient":"right","values":[-0.02,-0.01,0,0.01,0.02,0.03,0.04,0.05,0.06,0.07,0.08,0.09,0.1,0.11,0.12],"labelPadding":20,"labelExpr":"abs(datum.value*20-round(datum.value*20))<0.000001?''+datum.value:''","tickSize":{"condition":{"test":"abs(datum.value*20-round(datum.value*20))<0.000001","value":-10},"value":-5},"title":"Flux density (Jy)","titleAngle":270,"titleX":67,"titleY":-6}}}},
{"data":{"name":"redB"},"mark":{"type":"line","stroke":"#f5200a","strokeWidth":2,"interpolate":"monotone"},"encoding":{"order":{"value":null}}},
{"data":{"values":[{"x":507,"y":0.1123,"t":"LkCa 15"}]},"mark":{"type":"text","align":"right"},"encoding":{"text":{"field":"t"}}}
],"resolve":{"axis":{"x":"independent","y":"independent"}}}
]}
